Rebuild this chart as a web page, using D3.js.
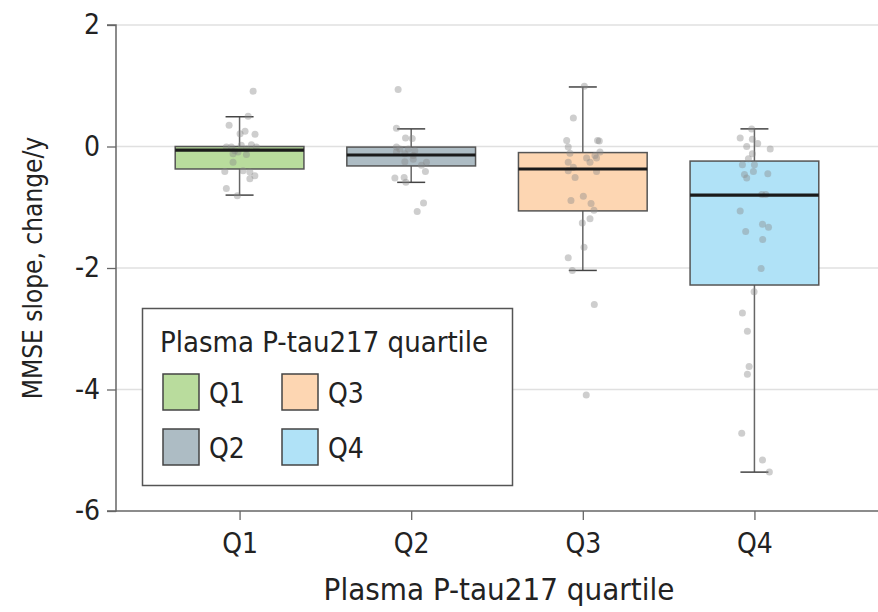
<!DOCTYPE html>
<html><head><meta charset="utf-8">
<script src="https://cdn.jsdelivr.net/npm/d3@7/dist/d3.min.js"></script>
<style>body{margin:0;background:#fff;} svg{display:block;} text{font-family:"Liberation Sans Narrow","DejaVu Sans Condensed",sans-serif;fill:#222;}</style>
</head><body><svg id="c" width="878" height="612"></svg>
<script>
const categories = ["Q1","Q2","Q3","Q4"];
const colors = ["#b9dc9d","#adbcc4","#fdd6b2","#b0e2f7"];
const whiskerLow = [-0.80,-0.59,-2.04,-5.36];
const lowerQuartile = [-0.37,-0.32,-1.06,-2.28];
const medians = [-0.06,-0.14,-0.37,-0.80];
const upperQuartile = [0.0,-0.01,-0.10,-0.24];
const whiskerHigh = [0.49,0.29,0.98,0.29];
const yTicks = [2,0,-2,-4,-6];
// points: [value, horizontal jitter as fraction of category step]
const pointsQ1 = [[0.91,0.079],[0.50,0.05],[0.35,-0.061],[0.25,0.032],[0.21,0.003],[0.20,0.09],[-0.01,-0.077],[-0.01,-0.048],[0.02,0.01],[0.03,0.069],[-0.01,0.098],[-0.04,0.04],[-0.07,-0.028],[-0.12,-0.038],[-0.13,0.04],[-0.09,-0.009],[-0.26,-0.038],[-0.41,-0.086],[-0.40,0.02],[-0.42,0.06],[-0.48,0.089],[-0.53,0.06],[-0.69,-0.077],[-0.81,-0.013]];
const pointsQ2 = [[0.94,-0.076],[0.30,-0.086],[0.14,-0.033],[0.13,0.006],[-0.01,-0.086],[-0.04,-0.066],[-0.04,-0.017],[-0.07,0.021],[-0.09,-0.086],[-0.12,-0.037],[-0.15,0.012],[-0.25,-0.037],[-0.21,0.012],[-0.26,0.089],[-0.31,0.06],[-0.41,0.083],[-0.52,-0.095],[-0.51,-0.041],[-0.59,-0.031],[-0.93,0.072],[-1.07,0.035]];
const pointsQ3 = [[0.99,0.009],[0.47,-0.055],[0.10,-0.094],[0.10,0.086],[0.09,0.096],[-0.01,-0.085],[-0.11,-0.075],[-0.09,0.1],[-0.15,0.071],[-0.19,0.022],[-0.26,0.042],[-0.19,0.08],[-0.26,-0.085],[-0.34,-0.055],[-0.40,-0.085],[-0.51,-0.045],[-0.41,0.08],[-0.82,0.003],[-0.89,-0.069],[-0.94,0.048],[-1.05,0.065],[-1.19,0.042],[-1.26,-0.003],[-1.66,0.007],[-1.83,-0.085],[-2.04,-0.061],[-2.60,0.067],[-4.09,0.02]];
const pointsQ4 = [[0.29,-0.016],[0.14,-0.083],[0.12,-0.012],[0.05,0.019],[0.0,-0.045],[-0.04,0.092],[-0.12,-0.012],[-0.20,-0.035],[-0.30,-0.07],[-0.30,0],[-0.41,-0.006],[-0.46,-0.058],[-0.52,-0.045],[-0.45,0.078],[-0.79,0.043],[-0.79,0.066],[-1.06,-0.083],[-1.28,0.047],[-1.33,0.082],[-1.40,-0.051],[-1.53,0.048],[-2.01,0.039],[-2.39,-0.002],[-2.74,-0.07],[-3.04,-0.041],[-3.62,-0.031],[-3.75,-0.041],[-4.72,-0.074],[-5.16,0.047],[-5.36,0.087]];
const allPoints = [pointsQ1,pointsQ2,pointsQ3,pointsQ4];
const yTitle = "MMSE slope, change/y";
const xTitle = "Plasma P-tau217 quartile";
const legendTitle = "Plasma P-tau217 quartile";

const svg = d3.select("#c");
const L = 116, R = 878, T = 25, B = 511;
const x = d3.scalePoint().domain(categories).range([L,R]).padding(0.72);
const y = d3.scaleLinear().domain([-6,2]).range([B,T]);
const step = x.step();
const boxW = step*0.75;
const capW = 28;

// gridlines
svg.append("g").selectAll("line").data(yTicks.filter(d=>d>-6)).join("line")
  .attr("x1",L).attr("x2",R).attr("y1",d=>y(d)).attr("y2",d=>y(d))
  .attr("stroke","#e0e0e0").attr("stroke-width",1.5);

// axes
const yAxis = svg.append("g").attr("transform",`translate(${L},0)`)
  .call(d3.axisLeft(y).tickValues(yTicks).tickSize(9).tickPadding(7).tickFormat(d=>d<0?"-"+Math.abs(d):d));
const xAxis = svg.append("g").attr("transform",`translate(0,${B})`)
  .call(d3.axisBottom(x).tickSize(9).tickPadding(13).tickSizeOuter(0));
[yAxis,xAxis].forEach(a=>{
  a.select(".domain").attr("stroke","#666").attr("stroke-width",1.5);
  a.selectAll(".tick line").attr("stroke","#666").attr("stroke-width",1.3);
  a.selectAll("text").style("font-size","28px").attr("fill","#222");
});
yAxis.select(".domain").attr("d",`M-9,${T}H0V${B}H-9`);
xAxis.select(".domain").attr("d",`M${L},0H${R}`);

// boxes
const idx = d3.range(categories.length);
const g = svg.append("g");
g.selectAll(".wh").data(idx).join("line")
  .attr("x1",i=>x(categories[i])).attr("x2",i=>x(categories[i]))
  .attr("y1",i=>y(whiskerHigh[i])).attr("y2",i=>y(whiskerLow[i]))
  .attr("stroke","#666").attr("stroke-width",1.5);
g.selectAll(".capH").data(idx).join("line")
  .attr("x1",i=>x(categories[i])-capW/2).attr("x2",i=>x(categories[i])+capW/2)
  .attr("y1",i=>y(whiskerHigh[i])).attr("y2",i=>y(whiskerHigh[i]))
  .attr("stroke","#444").attr("stroke-width",1.5);
g.selectAll(".capL").data(idx).join("line")
  .attr("x1",i=>x(categories[i])-capW/2).attr("x2",i=>x(categories[i])+capW/2)
  .attr("y1",i=>y(whiskerLow[i])).attr("y2",i=>y(whiskerLow[i]))
  .attr("stroke","#444").attr("stroke-width",1.5);
g.selectAll("rect").data(idx).join("rect")
  .attr("x",i=>x(categories[i])-boxW/2).attr("width",boxW)
  .attr("y",i=>y(upperQuartile[i])).attr("height",i=>y(lowerQuartile[i])-y(upperQuartile[i]))
  .attr("fill",i=>colors[i]).attr("stroke","#555").attr("stroke-width",1.5);

// points
allPoints.forEach((pts,i)=>{
  svg.append("g").selectAll("circle").data(pts).join("circle")
    .attr("cx",d=>x(categories[i])+d[1]*step).attr("cy",d=>y(d[0])).attr("r",3.5)
    .attr("fill","#8a8a8a").attr("fill-opacity",0.42);
});

// medians
svg.append("g").selectAll("line").data(idx).join("line")
  .attr("x1",i=>x(categories[i])-boxW/2).attr("x2",i=>x(categories[i])+boxW/2)
  .attr("y1",i=>y(medians[i])).attr("y2",i=>y(medians[i]))
  .attr("stroke","#1a1a1a").attr("stroke-width",3.2);

// titles
svg.append("text").attr("x",(L+R)/2+2).attr("y",600).attr("text-anchor","middle").style("font-size","31px").text(xTitle);
svg.append("text").attr("transform",`translate(42,${y(-2)}) rotate(-90)`).attr("text-anchor","middle").style("font-size","26px").text(yTitle);

// legend
const lg = svg.append("g");
lg.append("rect").attr("x",142.5).attr("y",308.5).attr("width",370).attr("height",177).attr("fill","#fff").attr("stroke","#555").attr("stroke-width",1.5);
lg.append("text").attr("x",160).attr("y",352).style("font-size","29px").text(legendTitle);
const lpos = [[163,374],[163,429],[282,374],[282,429]];
categories.forEach((c,i)=>{
  lg.append("rect").attr("x",lpos[i][0]).attr("y",lpos[i][1]).attr("width",36).attr("height",36)
    .attr("fill",colors[i]).attr("stroke","#444").attr("stroke-width",1.5);
  lg.append("text").attr("x",lpos[i][0]+46).attr("y",lpos[i][1]+29).style("font-size","28px").text(c);
});
</script></body></html>
